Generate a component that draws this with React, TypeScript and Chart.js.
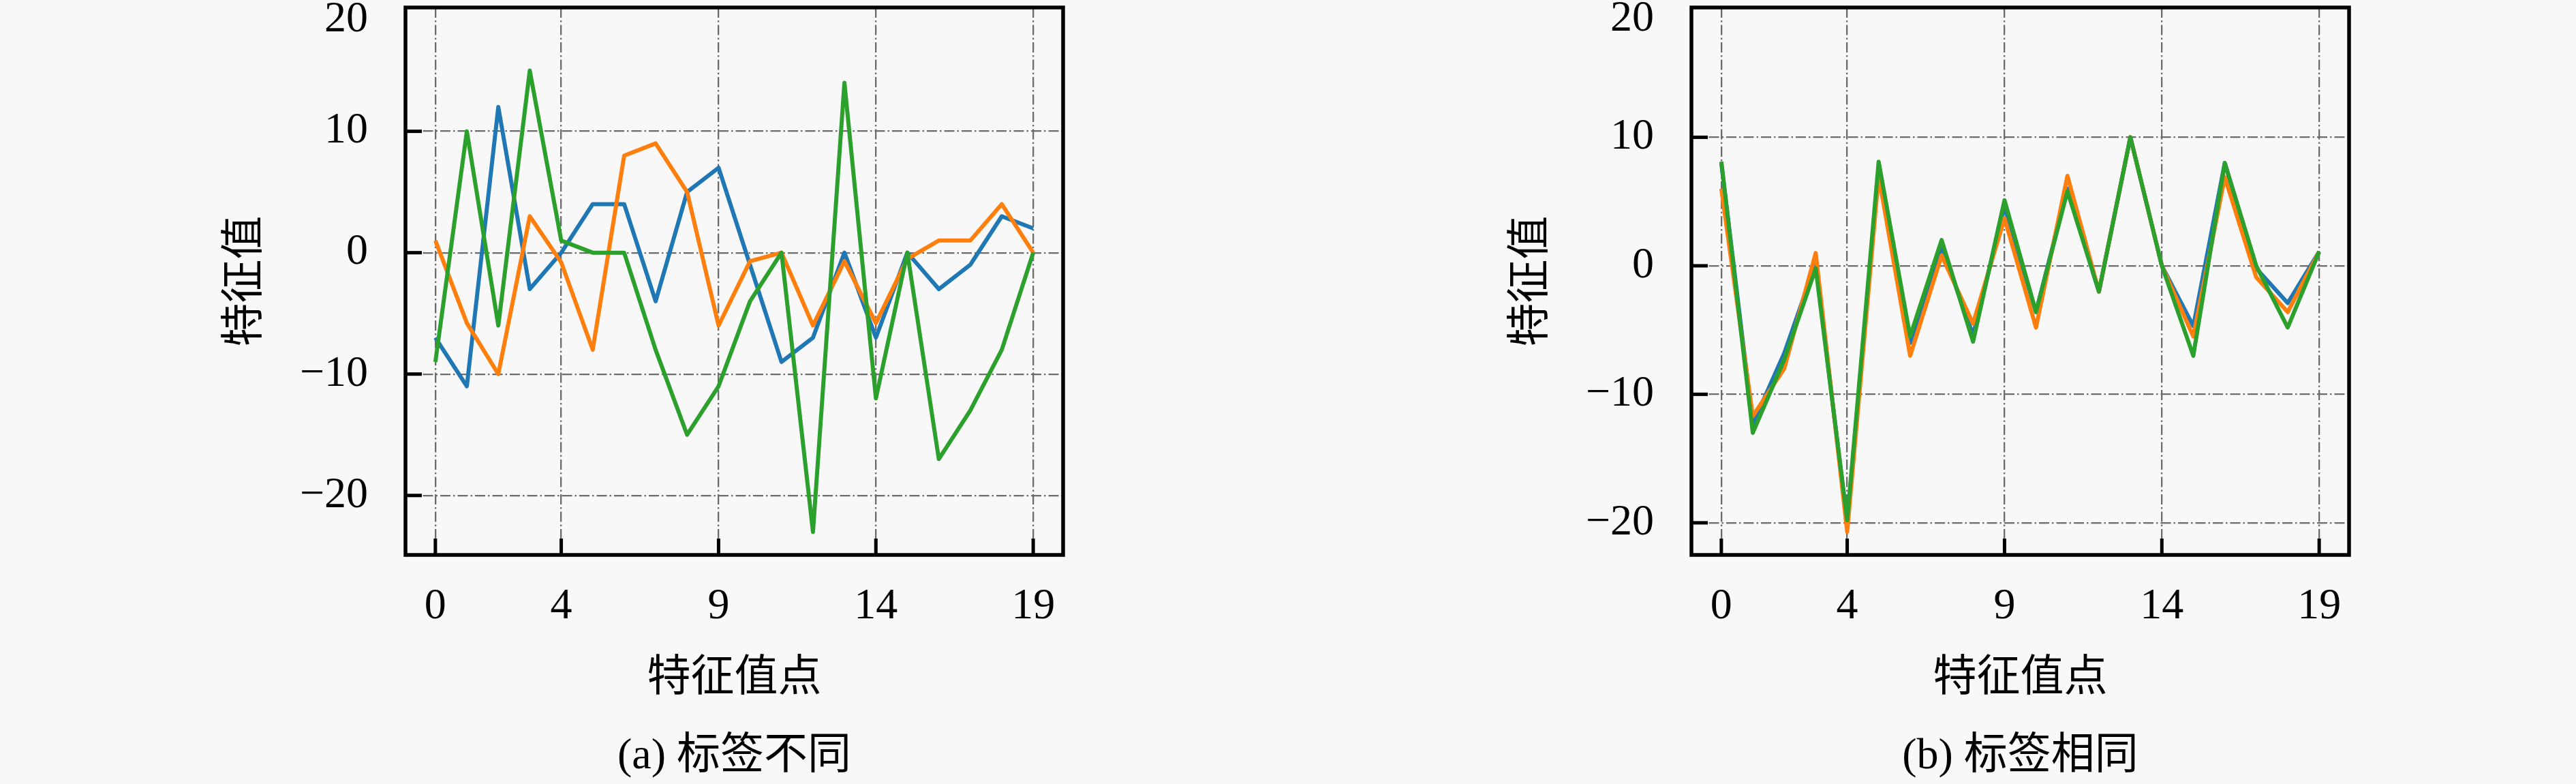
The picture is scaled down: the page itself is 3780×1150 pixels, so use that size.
import React, { useEffect, useRef } from "react";
import { Chart, registerables } from "chart.js";

Chart.register(...registerables);

// ---------- data ----------
const featurePoints = [0, 1, 2, 3, 4, 5, 6, 7, 8, 9, 10, 11, 12, 13, 14, 15, 16, 17, 18, 19];
const xTickValues = [0, 4, 9, 14, 19];
const yTickValues = [-20, -10, 0, 10, 20];

// (a) 标签不同
const blueA = [-7, -11, 12, -3, 0, 4, 4, -4, 5, 7, -1, -9, -7, 0, -7, 0, -3, -1, 3, 2];
const orangeA = [1, -5.8, -10, 3, -0.8, -8, 8, 9, 5, -6, -0.7, 0, -6, -0.7, -5.8, -0.5, 1, 1, 4, 0];
const greenA = [-9, 10, -6, 15, 1, 0, 0, -8, -15, -11, -4, 0, -23, 14, -12, 0, -17, -13, -8, 0];

// (b) 标签相同
const blueB = [8, -12.3, -6.8, 0.2, -20, 7.6, -6, 1.5, -5.4, 4.6, -3.6, 6, -2, 10, 0, -4.7, 8, -0.2, -2.9, 1.1];
const orangeB = [6, -11.7, -8, 1, -20.7, 7, -7, 0.8, -4.5, 3.7, -4.8, 7, -2, 10, 0, -5.5, 6.9, -0.9, -3.6, 1.1];
const greenB = [8.1, -13, -7.3, -0.2, -19.8, 8.1, -5.5, 2, -5.9, 5.1, -3.6, 5.8, -2, 10, 0, -7, 8, 0, -4.8, 1.1];

const captionA = "(a) 标签不同";
const captionB = "(b) 标签相同";
const xTitle = "特征值点";
const yTitle = "特征值";

const seriesColors = ["#1f77b4", "#ff7f0e", "#2ca02c"];

// ---------- styling ----------
const FONT = "'Liberation Serif', 'Noto Sans CJK SC', serif";
const CANVAS_W = 1880;
const CANVAS_H = 1150;
const GRID_COLOR = "#6c6c6c";

// ticks lying (almost) on the frame edge get no mark / grid line, as in the reference
function onEdge(scale: any, value: number) {
  if (!scale || typeof scale.max !== "number" || typeof scale.min !== "number") return false;
  const range = scale.max - scale.min;
  return Math.abs(value - scale.max) < 0.01 * range || Math.abs(value - scale.min) < 0.01 * range;
}

const frameTicksPlugin = {
  id: "frameTicks",
  afterDatasetsDraw(chart: any) {
    const { ctx, chartArea: a, scales } = chart;
    const xs = scales.x;
    const ys = scales.y;
    ctx.save();
    ctx.strokeStyle = "#000";
    ctx.lineCap = "butt";
    ctx.lineWidth = 5;
    ctx.setLineDash([]);
    xs.ticks.forEach((t: any) => {
      if (onEdge(xs, t.value)) return;
      const px = xs.getPixelForValue(t.value);
      ctx.beginPath();
      ctx.moveTo(px, a.bottom);
      ctx.lineTo(px, a.bottom - 24);
      ctx.stroke();
    });
    ys.ticks.forEach((t: any) => {
      if (onEdge(ys, t.value)) return;
      const py = ys.getPixelForValue(t.value);
      ctx.beginPath();
      ctx.moveTo(a.left, py);
      ctx.lineTo(a.left + 24, py);
      ctx.stroke();
    });
    ctx.lineWidth = 5.5;
    ctx.strokeRect(a.left, a.top, a.right - a.left, a.bottom - a.top);
    ctx.restore();
  },
};

function fmtTick(v: number) {
  return v < 0 ? "\u2212" + Math.abs(v) : String(v);
}

function makeConfig(series: number[][], yMin: number, yMax: number, caption: string): any {
  const gridColor = (c: any) => (c.tick && onEdge(c.scale, c.tick.value) ? "rgba(0,0,0,0)" : GRID_COLOR);
  return {
    type: "line",
    data: {
      datasets: series.map((vals, k) => ({
        data: featurePoints.map((x, i) => ({ x, y: vals[i] })),
        borderColor: seriesColors[k],
        backgroundColor: seriesColors[k],
        borderWidth: 6,
        pointRadius: 0,
        tension: 0,
        fill: false,
        borderJoinStyle: "round",
        order: series.length - k,
      })),
    },
    options: {
      animation: false,
      responsive: false,
      devicePixelRatio: 1,
      events: [],
      layout: { padding: { left: 300, right: 321, top: 11, bottom: 1.2 } },
      plugins: {
        legend: { display: false },
        tooltip: { enabled: false },
        title: {
          display: true,
          text: caption,
          position: "bottom",
          fullSize: false,
          color: "#000",
          font: { family: FONT, size: 64, weight: "normal" },
          padding: { top: 32, bottom: 0 },
        },
      },
      scales: {
        x: {
          type: "linear",
          min: -0.95,
          max: 19.95,
          bounds: "data",
          afterBuildTicks: (s: any) => {
            s.ticks = xTickValues.map((v) => ({ value: v }));
          },
          afterFit: (s: any) => {
            s.height = 226;
            s.paddingLeft = 0;
            s.paddingRight = 0;
          },
          ticks: {
            padding: 38,
            color: "#000",
            font: { family: FONT, size: 64 },
            maxRotation: 0,
            autoSkip: false,
            callback: (v: any) => fmtTick(Number(v)),
          },
          grid: { color: gridColor, lineWidth: 2.3, drawTicks: false },
          border: { display: false, dash: [15, 4, 2.5, 4] },
          title: {
            display: true,
            text: xTitle,
            color: "#000",
            font: { family: FONT, size: 64 },
            padding: { top: 0, bottom: 5 },
          },
        },
        y: {
          type: "linear",
          min: yMin,
          max: yMax,
          bounds: "data",
          afterBuildTicks: (s: any) => {
            s.ticks = yTickValues.map((v) => ({ value: v }));
          },
          afterFit: (s: any) => {
            s.width = 294;
            s.paddingTop = 0;
            s.paddingBottom = 0;
          },
          ticks: {
            padding: 55,
            color: "#000",
            // the top label sits just below the frame edge, as in the reference
            font: (c: any) =>
              c.tick && onEdge(c.scale, c.tick.value)
                ? { family: FONT, size: 64, lineHeight: 0.47 }
                : { family: FONT, size: 64 },
            autoSkip: false,
            callback: function (this: any, v: any) {
              const s = fmtTick(Number(v));
              return onEdge(this, Number(v)) ? ["", s] : s;
            },
          },
          grid: { color: gridColor, lineWidth: 2.3, drawTicks: false },
          border: { display: false, dash: [15, 4, 2.5, 4] },
          title: {
            display: true,
            text: yTitle,
            color: "#000",
            font: { family: FONT, size: 64 },
            padding: { top: 22, bottom: 0 },
          },
        },
      },
    },
    plugins: [frameTicksPlugin],
  };
}

function LineChart(props: { series: number[][]; yMin: number; yMax: number; caption: string; left: number }) {
  const ref = useRef<HTMLCanvasElement | null>(null);
  useEffect(() => {
    if (!ref.current) return;
    const chart = new Chart(ref.current, makeConfig(props.series, props.yMin, props.yMax, props.caption));
    return () => chart.destroy();
  }, []);
  return (
    <canvas
      ref={ref}
      width={CANVAS_W}
      height={CANVAS_H}
      style={{ position: "absolute", left: props.left, top: 0, width: CANVAS_W, height: CANVAS_H }}
    />
  );
}

export default function App() {
  return (
    <div
      style={{
        position: "fixed",
        left: 0,
        top: 0,
        width: 3780,
        height: 1150,
        background: "#f8f8f8",
        overflow: "hidden",
      }}
    >
      <LineChart series={[blueA, orangeA, greenA]} yMin={-24.9} yMax={20.2} caption={captionA} left={1} />
      <LineChart series={[blueB, orangeB, greenB]} yMin={-22.5} yMax={20.1} caption={captionB} left={1888} />
    </div>
  );
}
